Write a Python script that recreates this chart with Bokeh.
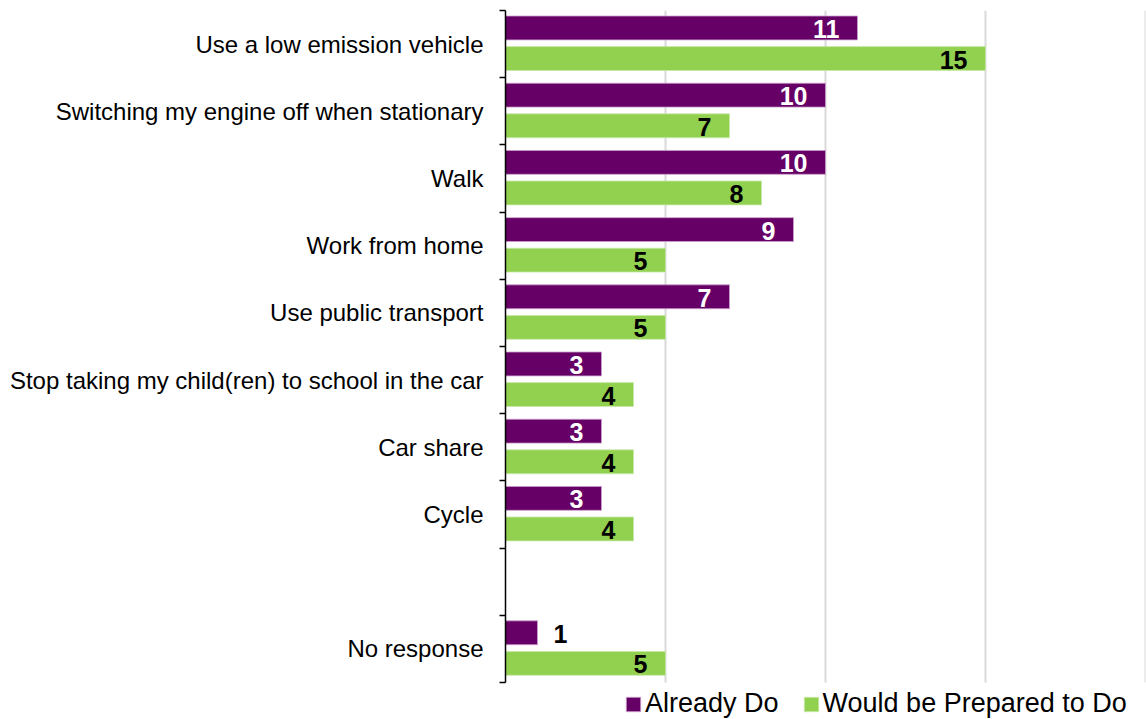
from bokeh.plotting import figure
from bokeh.models import (ColumnDataSource, Range1d, FixedTicker, Legend, LegendItem)
from bokeh.core.properties import value
from bokeh.embed import file_html
from bokeh.resources import INLINE

categories = ["Use a low emission vehicle", "Switching my engine off when stationary", "Walk",
              "Work from home", "Use public transport",
              "Stop taking my child(ren) to school in the car", "Car share", "Cycle", "",
              "No response"]
already_do = [11, 10, 10, 9, 7, 3, 3, 3, None, 1]
prepared_to_do = [15, 7, 8, 5, 5, 4, 4, 4, None, 5]
x_ticks = [5, 10, 15, 20]

PURPLE = "#660066"
GREEN = "#92D050"
FONT = "Liberation Sans"

n = len(categories)
slot = [i + 0.5 for i in range(n)]
extra = 37 / 67.2  # room below the axis for the legend

rows_a = [(slot[i] - 0.24, v) for i, v in enumerate(already_do) if v is not None]
rows_p = [(slot[i] + 0.215, v) for i, v in enumerate(prepared_to_do) if v is not None]

src_a = ColumnDataSource(dict(y=[r[0] for r in rows_a], v=[r[1] for r in rows_a],
                              t=[str(r[1]) for r in rows_a]))
src_p = ColumnDataSource(dict(y=[r[0] for r in rows_p], v=[r[1] for r in rows_p],
                              t=[str(r[1]) for r in rows_p]))

p = figure(width=1146, height=719, output_backend="svg", toolbar_location=None,
           x_range=Range1d(0, 20), y_range=Range1d(n + extra, 0),
           min_border_left=505, min_border_right=1, min_border_top=10, min_border_bottom=0)
p.outline_line_color = None
p.background_fill_color = "white"

# vertical gridlines
p.segment(x0=x_ticks, x1=x_ticks, y0=[0] * len(x_ticks), y1=[n] * len(x_ticks),
          line_color="#d9d9d9", line_width=2)

ra = p.hbar(y="y", right="v", left=0, height=0.355, source=src_a, fill_color=PURPLE,
            line_color="#c9a0c9", line_width=0.8)
rp = p.hbar(y="y", right="v", left=0, height=0.355, source=src_p, fill_color=GREEN,
            line_color="#c8e8a8", line_width=0.8)

# value labels
inside_a = dict(y=[], v=[], t=[])
outside_a = dict(y=[], v=[], t=[])
for y, v in rows_a:
    d = inside_a if v >= 3 else outside_a
    d["y"].append(y); d["v"].append(v); d["t"].append(str(v))
LBL = "25px"
p.text(x="v", y="y", text="t", source=ColumnDataSource(inside_a), text_align="right",
       text_baseline="middle", x_offset=-18, y_offset=1, text_color="white", text_font=value(FONT),
       text_font_style="bold", text_font_size=LBL)
p.text(x="v", y="y", text="t", source=ColumnDataSource(outside_a), text_align="left",
       text_baseline="middle", x_offset=16, y_offset=1, text_color="black", text_font=value(FONT),
       text_font_style="bold", text_font_size=LBL)
p.text(x="v", y="y", text="t", source=src_p, text_align="right",
       text_baseline="middle", x_offset=-18, y_offset=1, text_color="black", text_font=value(FONT),
       text_font_style="bold", text_font_size=LBL)

# axes
p.xaxis.visible = False
p.xgrid.visible = False
p.ygrid.visible = False

yax = p.yaxis[0]
yax.bounds = (0, n)
yax.ticker = FixedTicker(ticks=slot, minor_ticks=list(range(n + 1)))
yax.major_label_overrides = {s: c for s, c in zip(slot, categories)}
yax.major_tick_out = 0
yax.major_tick_in = 0
yax.minor_tick_out = 6
yax.minor_tick_in = 0
yax.minor_tick_line_color = "black"
yax.minor_tick_line_width = 1.5
yax.axis_line_color = "black"
yax.axis_line_width = 1.5
yax.major_label_standoff = 16
yax.major_label_text_font = FONT
yax.major_label_text_font_size = "24px"
yax.major_label_text_color = "black"

legend = Legend(items=[LegendItem(label="Already Do", renderers=[ra]),
                       LegendItem(label="Would be Prepared to Do", renderers=[rp])],
                orientation="horizontal", location=(119, 0),
                label_text_font=FONT, label_text_font_size="27px", label_text_color="black",
                glyph_width=18, glyph_height=18, label_standoff=3, spacing=23,
                padding=0, margin=0, border_line_color=None, background_fill_alpha=0)
p.add_layout(legend, "center")

open("out.html", "w").write(file_html(p, INLINE))
